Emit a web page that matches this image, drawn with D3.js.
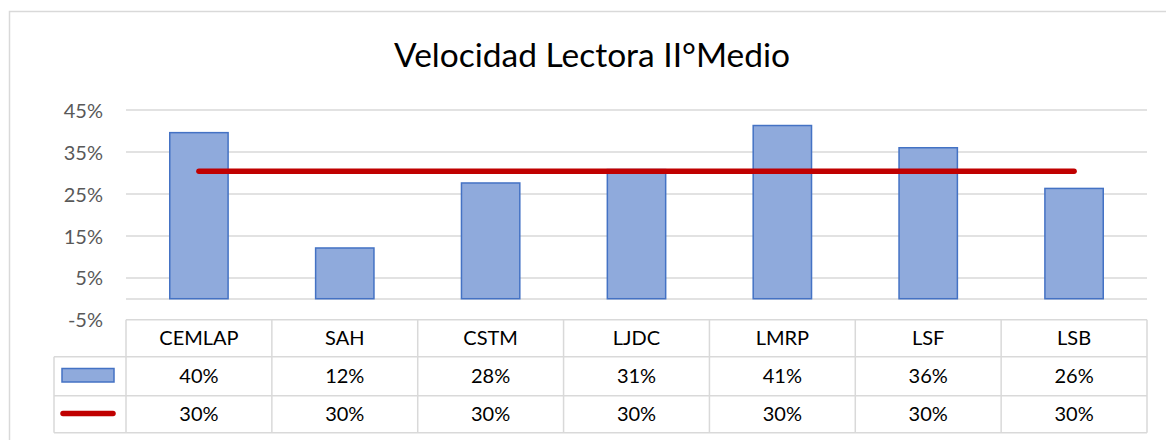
<!DOCTYPE html>
<html>
<head>
<meta charset="utf-8">
<script src="https://cdn.jsdelivr.net/npm/d3@7"></script>
<style>
  body { margin: 0; background: #fff; }
  text { font-family: Lato, "Open Sans", sans-serif; }
</style>
</head>
<body>
<div id="chart"></div>
<script>
// data
var categories = ["CEMLAP", "SAH", "CSTM", "LJDC", "LMRP", "LSF", "LSB"]
var barValues = [39.6, 12.1, 27.6, 30.8, 41.3, 36.0, 26.3]
var lineValues = [30.4, 30.4, 30.4, 30.4, 30.4, 30.4, 30.4]
var yTicks = [-5, 5, 15, 25, 35, 45]
var title = "Velocidad Lectora II°Medio"

var W = 1166, H = 440
var plotLeft = 126, plotRight = 1147, plotTop = 110, plotBottom = 319.7
var rowH = [37, 39, 37]   // table rows
var keyLeft = 54

var svg = d3.select("#chart").append("svg")
  .attr("width", W)
  .attr("height", H)

// chart border
svg.append("rect")
  .attr("x", 9.5).attr("y", 11.5)
  .attr("width", 1200).attr("height", 500)
  .attr("fill", "none")
  .attr("stroke", "#d9d9d9")
  .attr("stroke-width", 1.5)

svg.append("text")
  .attr("x", 592).attr("y", 67)
  .attr("text-anchor", "middle")
  .attr("font-size", 33.5)
  .attr("fill", "#000")
  .text(title)

var x = d3.scaleBand()
  .domain(categories)
  .range([plotLeft, plotRight])
  .paddingInner(0).paddingOuter(0)

var y = d3.scaleLinear()
  .domain([-5, 45])
  .range([plotBottom, plotTop])

// gridlines (the -5 one is the table top)
svg.append("g")
  .selectAll("line")
  .data(yTicks.filter(function (d) { return d > -5 }).concat([0]))
  .enter().append("line")
  .attr("x1", plotLeft).attr("x2", plotRight)
  .attr("y1", function (d) { return Math.round(y(d)) })
  .attr("y2", function (d) { return Math.round(y(d)) })
  .attr("stroke", "#d9d9d9")
  .attr("stroke-width", 1.5)

// y axis labels
var yaxis = svg.append("g")
  .attr("transform", "translate(" + (plotLeft - 23) + ",0)")
  .call(d3.axisLeft(y).tickValues(yTicks).tickSize(0).tickFormat(function (d) { return d + "%" }))
yaxis.select(".domain").remove()
yaxis.selectAll("text")
  .attr("font-size", 20)
  .attr("font-family", "Lato, sans-serif")
  .attr("fill", "#595959")
  .attr("dy", "0.36em")
  .attr("x", 0)

// bars
var bw = x.bandwidth() * 0.4
svg.append("g")
  .selectAll("rect")
  .data(barValues)
  .enter().append("rect")
  .attr("x", function (d, i) { return x(categories[i]) + (x.bandwidth() - bw) / 2 })
  .attr("width", bw)
  .attr("y", function (d) { return y(d) })
  .attr("height", function (d) { return y(0) - y(d) })
  .attr("fill", "#8faadc")
  .attr("stroke", "#4472c4")
  .attr("stroke-width", 1.5)

// target line
var line = d3.line()
  .x(function (d, i) { return x(categories[i]) + x.bandwidth() / 2 })
  .y(function (d) { return y(d) })
svg.append("path")
  .datum(lineValues)
  .attr("d", line)
  .attr("fill", "none")
  .attr("stroke", "#c00000")
  .attr("stroke-width", 5.5)
  .attr("stroke-linecap", "round")

// data table
var t0 = plotBottom
var r1 = t0 + rowH[0], r2 = r1 + rowH[1], r3 = r2 + rowH[2]
var tbl = svg.append("g")
  .attr("stroke", "#d9d9d9")
  .attr("stroke-width", 1.5)
  .attr("fill", "none")

tbl.append("line").attr("x1", plotLeft).attr("x2", plotRight).attr("y1", t0).attr("y2", t0)
;[r1, r2, r3].forEach(function (yy) {
  tbl.append("line").attr("x1", keyLeft).attr("x2", plotRight).attr("y1", yy).attr("y2", yy)
})
tbl.append("line").attr("x1", keyLeft).attr("x2", keyLeft).attr("y1", r1).attr("y2", r3)
categories.forEach(function (c) {
  tbl.append("line").attr("x1", x(c)).attr("x2", x(c)).attr("y1", t0).attr("y2", r3)
})
tbl.append("line").attr("x1", plotRight).attr("x2", plotRight).attr("y1", t0).attr("y2", r3)

function pct(v) { return Math.round(v) + "%" }

var cells = svg.append("g").attr("font-size", 20).attr("fill", "#000").attr("text-anchor", "middle")
categories.forEach(function (c, i) {
  var cx = x(c) + x.bandwidth() / 2
  cells.append("text").attr("x", cx).attr("y", (t0 + r1) / 2).attr("dy", "0.36em").text(c)
  cells.append("text").attr("x", cx).attr("y", (r1 + r2) / 2).attr("dy", "0.36em").text(pct(barValues[i]))
  cells.append("text").attr("x", cx).attr("y", (r2 + r3) / 2).attr("dy", "0.36em").text(pct(lineValues[i]))
})

// legend keys
svg.append("rect")
  .attr("x", 62).attr("y", 368.5)
  .attr("width", 52).attr("height", 13.5)
  .attr("fill", "#8faadc")
  .attr("stroke", "#4472c4")
  .attr("stroke-width", 1.5)
svg.append("line")
  .attr("x1", 63).attr("x2", 113)
  .attr("y1", 413.5).attr("y2", 413.5)
  .attr("stroke", "#c00000")
  .attr("stroke-width", 5.5)
  .attr("stroke-linecap", "round")
</script>
</body>
</html>
